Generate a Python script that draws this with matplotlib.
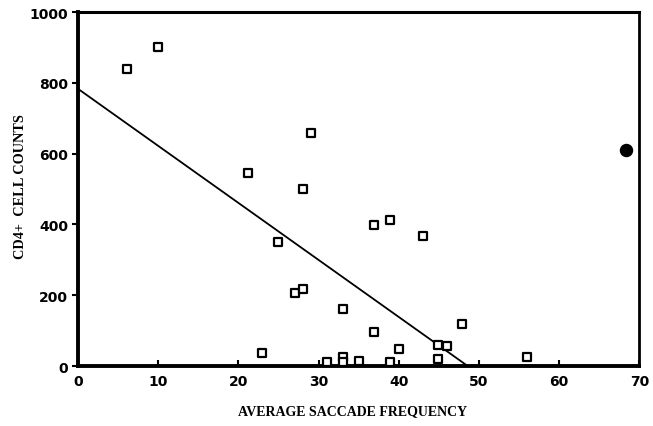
import matplotlib.pyplot as plt
import numpy as np

# open squares
sq_x = np.array([6.1, 10, 21.2, 29.1, 28, 25, 27, 28.1, 23, 31, 36.9, 38.9, 43, 33,
                 36.9, 47.9, 44.9, 46, 40, 44.9, 56, 33, 33, 35, 38.9])
sq_y = np.array([840, 900, 545, 658, 500, 350, 206, 218, 37, 10, 397, 413, 366, 160,
                 97, 118, 60, 57, 47, 19, 25, 25, 10, 14, 11])
# filled point
dot_x = [68.3]
dot_y = [610]
# regression line
line_x = [0, 48.6]
line_y = [783, 0]

plt.rcParams['font.family'] = ['DejaVu Sans']
fig = plt.figure(figsize=(6.53, 4.27), dpi=100)
ax = fig.add_axes([0.1195, 0.1405, 0.8595, 0.829])

ax.plot(line_x, line_y, color='black', lw=1.3)
ax.scatter(sq_x, sq_y, marker='s', s=38, facecolor='white', edgecolor='black',
           linewidths=1.6, zorder=3)
ax.scatter(dot_x, dot_y, marker='o', s=75, color='black', zorder=3)

ax.set_xlim(0, 70)
ax.set_ylim(0, 1000)
ax.set_xticks(np.arange(0, 71, 10))
ax.set_yticks(np.arange(0, 1001, 200))
ax.tick_params(axis='x', direction='in', length=4, width=1.5, pad=6)
ax.tick_params(axis='y', direction='out', length=4, width=1.5, pad=3)
for lab in ax.get_xticklabels() + ax.get_yticklabels():
    lab.set_fontweight('heavy')
    lab.set_fontsize(10)

ax.spines['left'].set_linewidth(2.8)
ax.spines['bottom'].set_linewidth(2.8)
ax.spines['top'].set_linewidth(2.2)
ax.spines['right'].set_linewidth(2)

# axis titles
fig.text(353 / 653, 1 - 412 / 427, 'AVERAGE SACCADE FREQUENCY', family='Liberation Serif',
         fontweight='bold', fontsize=10, ha='center', va='center')
fig.text(21 / 653, 1 - 187 / 427, 'CD4+  CELL COUNTS', family='Liberation Serif',
         fontweight='bold', fontsize=10.3, ha='center', va='center', rotation=90)

fig.savefig('out.png', dpi=100)
